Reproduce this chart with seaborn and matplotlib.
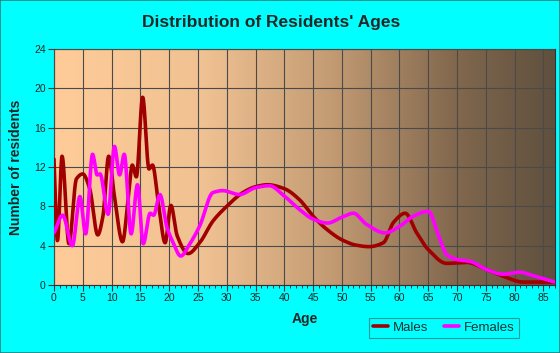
import numpy as np
import pandas as pd
import matplotlib
matplotlib.use("Agg")
import matplotlib.pyplot as plt
import seaborn as sns
from matplotlib.ticker import MultipleLocator
from matplotlib.patches import Rectangle

# values (age, residents) at turning points
males_age = [0, 0.6, 1.4, 2.6, 3.9, 5.0, 6.2, 7.6, 8.5, 9.5, 10.5, 11.9, 13.0, 13.6,
             14.3, 15.4, 16.5, 17.1, 18.2, 19.3, 20.3, 21.4, 23.3, 25.3, 27.6, 30.0,
             32.8, 35.0, 37.1, 40.0, 42.6, 45.0, 47.3, 50.0, 52.5, 54.7, 57.2, 59.0,
             61.0, 63.0, 65.0, 68.2, 71.7, 75.0, 78.0, 81.5, 87.0]
males_val = [12.8, 4.5, 13.1, 4.2, 10.8, 11.3, 9.8, 5.1, 7.0, 13.1, 9.0, 4.4, 9.5, 12.2,
             11.0, 19.1, 11.8, 12.2, 8.0, 4.3, 8.1, 5.0, 3.2, 4.3, 6.5, 8.0,
             9.4, 10.0, 10.2, 9.8, 8.7, 7.0, 5.7, 4.6, 4.05, 3.9, 4.3, 6.4,
             7.3, 5.3, 3.6, 2.2, 2.3, 1.6, 0.9, 0.3, 0.3]

females_age = [0, 1.5, 3.2, 4.5, 5.5, 6.7, 7.5, 8.0, 9.4, 10.5, 11.4, 12.2, 13.4, 14.5,
               15.5, 16.7, 17.3, 18.4, 19.6, 20.7, 22.0, 23.6, 25.3, 27.6, 29.3, 32.2,
               35.0, 37.4, 40.0, 42.6, 45.0, 47.5, 50.0, 52.0, 54.2, 57.5, 60.1, 62.4,
               65.0, 66.8, 68.2, 69.9, 72.3, 75.0, 78.0, 80.9, 83.2, 87.0]
females_val = [5.3, 7.1, 4.0, 9.0, 5.2, 13.3, 11.2, 11.3, 7.2, 14.1, 11.2, 13.3, 5.2, 10.2,
               4.2, 7.3, 7.1, 9.2, 5.9, 4.3, 2.95, 4.2, 6.0, 9.4, 9.6, 9.2,
               9.9, 10.1, 9.05, 7.7, 6.7, 6.3, 6.9, 7.3, 6.2, 5.3, 6.0, 7.0,
               7.5, 5.0, 3.1, 2.6, 2.4, 1.6, 1.1, 1.3, 0.95, 0.3]


def smooth(x, y, n=1500):
    # monotone cubic (pchip) so the curve passes through each read point
    x = np.asarray(x, float)
    y = np.asarray(y, float)
    h = np.diff(x)
    d = np.diff(y) / h
    m = np.zeros_like(y)
    m[0], m[-1] = d[0], d[-1]
    for k in range(1, len(x) - 1):
        if d[k - 1] * d[k] > 0:
            w1 = 2 * h[k] + h[k - 1]
            w2 = h[k] + 2 * h[k - 1]
            m[k] = (w1 + w2) / (w1 / d[k - 1] + w2 / d[k])
    xs = np.linspace(x[0], x[-1], n)
    i = np.clip(np.searchsorted(x, xs) - 1, 0, len(x) - 2)
    t = (xs - x[i]) / h[i]
    h00 = 2 * t**3 - 3 * t**2 + 1
    h10 = t**3 - 2 * t**2 + t
    h01 = -2 * t**3 + 3 * t**2
    h11 = t**3 - t**2
    ys = h00 * y[i] + h10 * h[i] * m[i] + h01 * y[i + 1] + h11 * h[i] * m[i + 1]
    return xs, ys


mx, my = smooth(males_age, males_val)
fx, fy = smooth(females_age, females_val)
df = pd.concat([
    pd.DataFrame({"Age": mx, "Residents": my, "Sex": "Males"}),
    pd.DataFrame({"Age": fx, "Residents": fy, "Sex": "Females"}),
])

sns.set_style("white")
plt.rcParams["font.family"] = ["Liberation Sans", "DejaVu Sans"]

bg = "#00FFFF"
fig = plt.figure(figsize=(5.6, 3.53), dpi=100, facecolor=bg)
ax = fig.add_axes([0.0964, 0.1926, 0.8946, 0.6684])

# brown gradient behind the plot
stops = np.array([0, 0.3, 0.55, 0.8, 1.0])
cols = np.array([[255, 204, 153], [240, 193, 146], [196, 156, 116],
                 [130, 104, 78], [95, 80, 62]]) / 255.0
gx = np.linspace(0, 1, 512)
grad = np.stack([np.interp(gx, stops, cols[:, c]) for c in range(3)], axis=-1)[None, :, :]
ax.imshow(grad, extent=[0, 1, 0, 1], transform=ax.transAxes, aspect="auto", zorder=0)

sns.lineplot(data=df, x="Age", y="Residents", hue="Sex",
             palette={"Males": "#a00000", "Females": "#ff00ff"},
             hue_order=["Males", "Females"], linewidth=2.6, ax=ax, zorder=3,
             estimator=None, sort=False)

ax.set_xlim(0, 87)
ax.set_ylim(0, 24)
ax.xaxis.set_major_locator(MultipleLocator(5))
ax.xaxis.set_minor_locator(MultipleLocator(1))
ax.yaxis.set_major_locator(MultipleLocator(4))
ax.grid(True, which="major", color="#4a4a4a", linewidth=0.8, zorder=1)
ax.set_axisbelow(False)
for s in ax.spines.values():
    s.set_color("#333333")
    s.set_linewidth(0.8)
ax.tick_params(axis="both", which="major", direction="out", length=4, width=0.8,
               color="#333333", labelsize=7.5, pad=2, bottom=True, left=True)
ax.tick_params(axis="x", which="minor", direction="out", length=2.5, width=0.7,
               color="#333333", bottom=True)

ax.set_xlabel("Age", fontsize=10, fontweight="bold", labelpad=6)
ax.set_ylabel("Number of residents", fontsize=10, fontweight="bold", labelpad=8)
fig.text(0.485, 0.935, "Distribution of Residents' Ages", ha="center", va="center",
         fontsize=12.5, fontweight="bold")

handles, labels = ax.get_legend_handles_labels()
ax.get_legend().remove()
leg = fig.legend(handles, labels, loc="center", bbox_to_anchor=(0.793, 0.072), ncol=2,
                 frameon=True, fancybox=False, facecolor=bg, edgecolor="#2a8080",
                 fontsize=9.5, handlelength=1.1, handletextpad=0.4,
                 columnspacing=1.2, borderpad=0.3)
leg.get_frame().set_linewidth(0.8)
for t in leg.get_texts():
    t.set_color("#1a3333")

fig.patches.append(Rectangle((0, 0), 1, 1, transform=fig.transFigure, fill=False,
                             edgecolor="#2a8080", linewidth=1.2))

fig.savefig("out.png", dpi=100, facecolor=bg)
